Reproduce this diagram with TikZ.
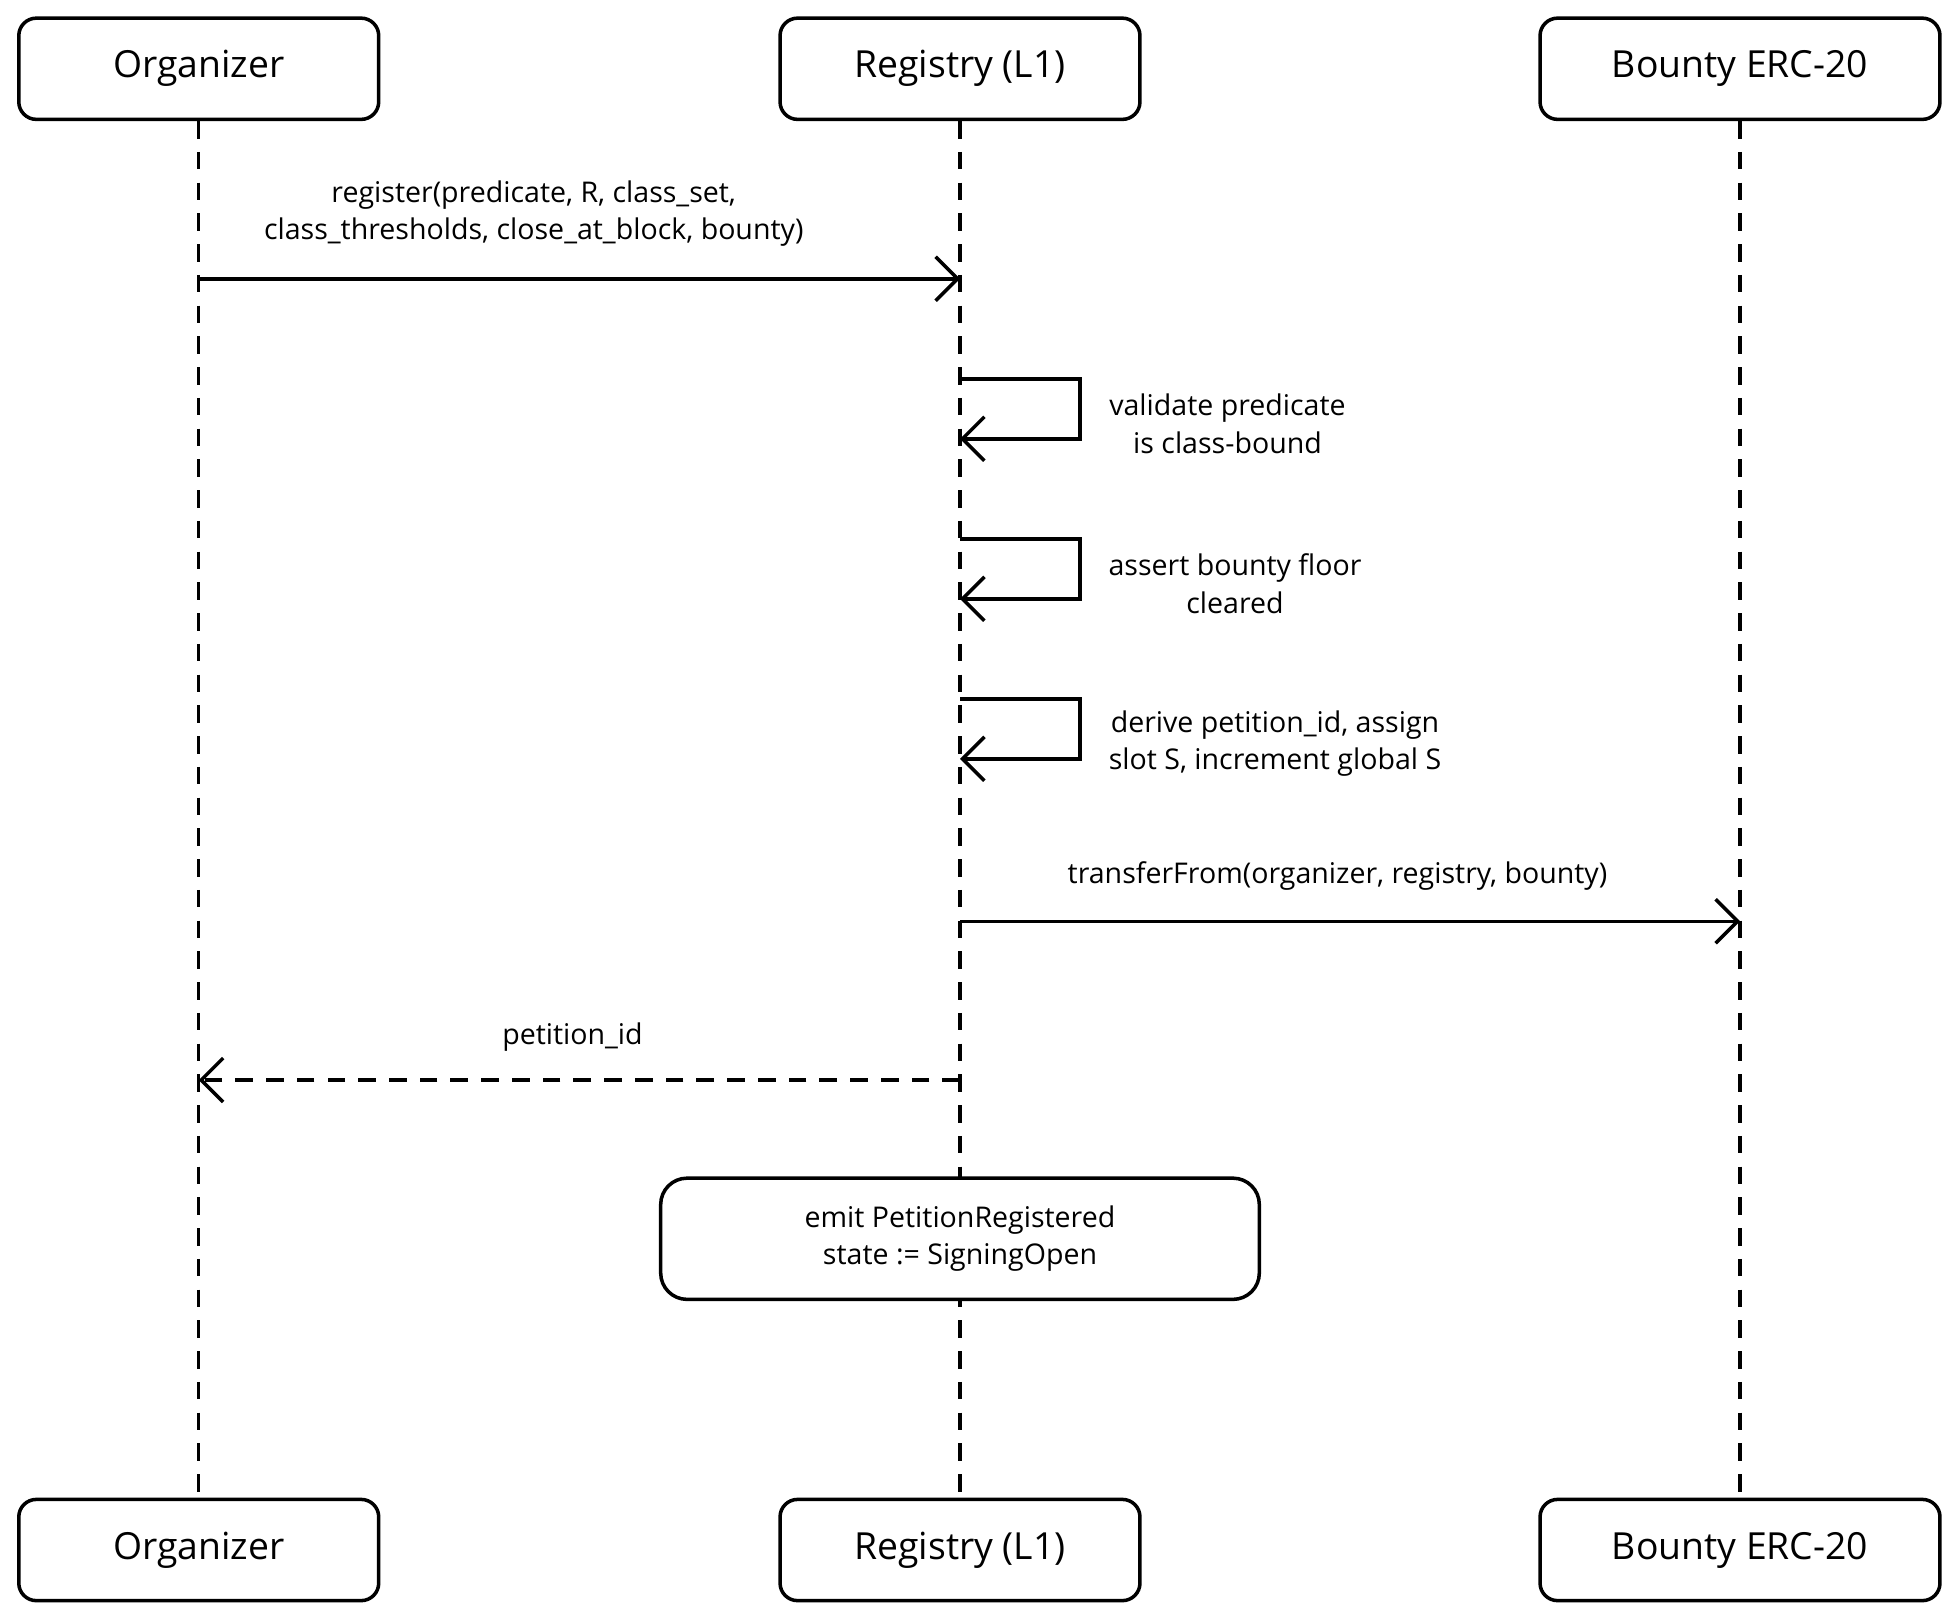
\documentclass[tikz,border=0pt]{standalone}
\usepackage{fontspec}
\setmainfont{Open Sans}
\usetikzlibrary{arrows.meta}
\begin{document}
\begin{tikzpicture}[x=0.02cm,y=-0.02cm,
  actor/.style={draw,line width=1.6pt,rounded corners=8pt,minimum width=5.76cm,minimum height=1.62cm,font=\fontsize{17}{20}\selectfont},
  life/.style={dashed,line width=1.4pt,dash pattern=on 8pt off 6pt},
  msg/.style={line width=1.6pt,-{Straight Barb[length=10pt,width=20pt,line width=1.6pt]}},
  lbl/.style={font=\fontsize{13}{17}\selectfont,align=center},
  note/.style={draw,line width=1.6pt,rounded corners=12pt,fill=white,minimum width=9.58cm,minimum height=1.94cm,font=\fontsize{13}{17}\selectfont,align=center}]
\useasboundingbox (0,0) rectangle (1568,1296);
\node[actor] (ot) at (159,55) {Organizer};
\node[actor] (rt) at (768,55) {Registry (L1)};
\node[actor,minimum width=6.4cm] (bt) at (1392,55) {Bounty ERC-20};
\node[actor] (ob) at (159,1240) {Organizer};
\node[actor] (rb) at (768,1240) {Registry (L1)};
\node[actor,minimum width=6.4cm] (bb) at (1392,1240) {Bounty ERC-20};
\draw[life] (ot.south) -- (ob.north);
\draw[life] (rt.south) -- (rb.north);
\draw[life] (bt.south) -- (bb.north);
\node[note] (n) at (768,991) {emit PetitionRegistered\\state := SigningOpen};
\coordinate (o1) at (159,223); \coordinate (r1) at (768,223);
\draw[msg] (o1) -- (r1);
\node[lbl] (l1) at (427,171) {register(predicate, R, class\_set,\\class\_thresholds, close\_at\_block, bounty)};
\foreach \i/\y/\t/\cx in {a/303/{validate predicate\\is class-bound}/982, b/431/{assert bounty floor\\cleared}/988, c/559/{derive petition\_id, assign\\slot S, increment global S}/1020}{
  \coordinate (s\i) at (768,\y); \coordinate (e\i) at (768,\y+48);
  \draw[msg] (s\i) -- (864,\y) -- (864,\y+48) -- (e\i);
  \node[lbl] (t\i) at (\cx,\y+36) {\t};
}
\coordinate (r2) at (768,737); \coordinate (b2) at (1392,737);
\draw[msg] (r2) -- (b2);
\node[lbl] (l2) at (1070,701) {transferFrom(organizer, registry, bounty)};
\coordinate (r3) at (768,864); \coordinate (o3) at (159,864);
\draw[msg,dash pattern=on 8pt off 6pt] (r3) -- (o3);
\node[lbl] (l3) at (458,830) {petition\_id};
\end{tikzpicture}
\end{document}
